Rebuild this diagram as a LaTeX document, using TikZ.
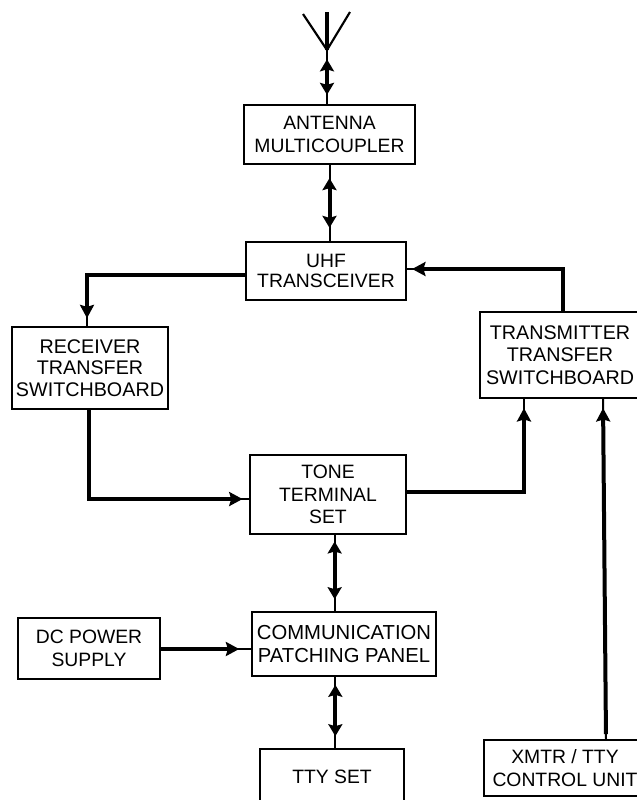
\documentclass[tikz,border=0pt]{standalone}
\usepackage{fontspec}
\setmainfont{Liberation Sans}
\usetikzlibrary{
    arrows.meta,
    positioning
}
\tikzset{
  box/.style    = {draw, line width=1.2pt, inner sep=0pt, align=center,
                   font=\fontsize{14.5pt}{16.8pt}\selectfont},
  mast/.style   = {line width=1.6pt},
  biarr/.style  = {line width=3pt, {Stealth[length=9pt,width=10.5pt,inset=1.5pt]}-{Stealth[length=9pt,width=10.5pt,inset=1.5pt]},
                   preaction={draw, -, line width=1.5pt, shorten <=0pt, shorten >=0pt}},
  onearr/.style = {line width=3pt, -{Stealth[length=10pt,width=10.5pt,inset=1.5pt]}, line join=miter,
                   preaction={draw, -, line width=1.5pt, shorten <=0pt, shorten >=0pt}}
}

\begin{document}
\begin{tikzpicture}[x=0.75pt, y=-0.75pt]
      \useasboundingbox (0,0) rectangle (636,800);
      \node[box, minimum width=128.25pt, minimum height=44.25pt] (amc) at (329.5,134.5) {ANTENNA\\MULTICOUPLER};
      \node[box, minimum width=120pt, minimum height=43.5pt, font=\fontsize{14.5pt}{15pt}\selectfont] (uhf) at (326,271) {UHF\\TRANSCEIVER};
      \node[box, minimum width=117pt, minimum height=61.5pt, font=\fontsize{14.8pt}{16pt}\selectfont] (rx) at (90,368) {RECEIVER\\TRANSFER\\SWITCHBOARD};
      \node[box, minimum width=120pt, minimum height=64.5pt, font=\fontsize{14.8pt}{16.8pt}\selectfont] (tx) at (560,355) {TRANSMITTER\\TRANSFER\\SWITCHBOARD};
      \node[box, minimum width=117pt, minimum height=59.25pt] (tone) at (328,494.5) {TONE\\TERMINAL\\SET};
      \node[box, minimum width=138pt, minimum height=48pt, font=\fontsize{15.2pt}{17.5pt}\selectfont] (comm) at (344,644) {COMMUNICATION\\PATCHING PANEL};
      \node[box, minimum width=106.5pt, minimum height=45.75pt] (dc) at (89,648.5) {DC POWER\\SUPPLY};
      \node[box, minimum width=108pt, minimum height=42pt] (tty) at (332,777) {TTY SET};
      \node[box, minimum width=121.5pt, minimum height=42pt] (xmtr) at (565,768) {XMTR / TTY\\CONTROL UNIT};
      % antenna
      \coordinate (ant) at (327,50);
      \coordinate (anttop) at (327,12);
      \coordinate (antl) at (303,14);
      \coordinate (antr) at (350,12);
      \draw[mast] (antl) -- (ant) -- (antr);
      \draw[line width=2.4pt] (anttop) -- (ant);
      % both ways
      \draw[biarr, shorten <=7pt, shorten >=7pt] (ant) -- (ant |- amc.north);
      \draw[biarr, shorten <=10pt, shorten >=10pt] (amc.south) -- (amc.south |- uhf.north);
      \draw[biarr, shorten <=5pt, shorten >=9pt] ([xshift=5pt]tone.south) -- ([xshift=-7pt]comm.north);
      \draw[biarr, shorten <=6pt, shorten >=9pt] ([xshift=-6.5pt]comm.south) -- ([xshift=2.5pt]tty.north);
      % one way
      \draw[onearr, shorten >=6pt] ([yshift=-3pt]uhf.west) -| ([xshift=-2.25pt]rx.north);
      \draw[onearr, shorten >=5pt] ([xshift=-0.75pt]rx.south) |- ([yshift=-3.4pt]tone.west);
      \draw[onearr, shorten >=7pt] ([yshift=1.9pt]tone.east) -| ([xshift=-27pt]tx.south);
      \draw[onearr, shorten >=4pt] ([xshift=2.25pt]tx.north) |- ([yshift=1.5pt]uhf.east);
      \draw[onearr, shorten <=3.75pt, shorten >=7pt] ([xshift=30.75pt]xmtr.north) -- ([xshift=32.25pt]tx.south);
      \draw[onearr, shorten >=9pt] (dc.east |- comm.west) ++(0,5) -- ([yshift=-3.75pt]comm.west);
    \end{tikzpicture}
\end{document}
